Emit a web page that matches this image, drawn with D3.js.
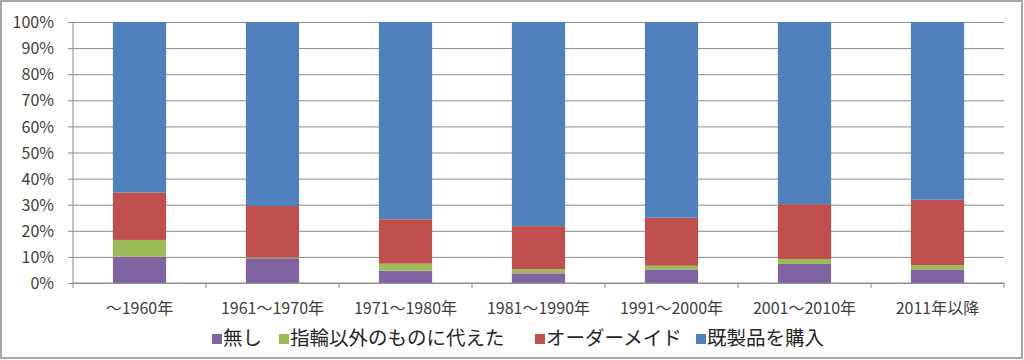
<!DOCTYPE html>
<html>
<head>
<meta charset="utf-8">
<script src="https://cdn.jsdelivr.net/npm/d3@7"></script>
<style>
  body { margin: 0; background: #fff; }
  text { font-family: "Noto Sans CJK JP", "Noto Sans", sans-serif; fill: #404040; }
</style>
</head>
<body>
<div id="chart"></div>
<script>
// categories and series (percent of each period)
const categories = ["～1960年", "1961～1970年", "1971～1980年", "1981～1990年", "1991～2000年", "2001～2010年", "2011年以降"];
const seriesNames = ["無し", "指輪以外のものに代えた", "オーダーメイド", "既製品を購入"];
const nashi   = [10.1, 9.5, 4.7, 3.7, 5.2, 7.3, 5.2];
const kawari  = [6.4, 0.3, 2.7, 1.5, 1.4, 1.9, 1.7];
const order   = [18.2, 19.7, 17.0, 16.6, 18.4, 21.0, 25.0];
const kisei   = [65.3, 70.5, 75.6, 78.2, 75.0, 69.8, 68.1];
const yTicks  = [0, 10, 20, 30, 40, 50, 60, 70, 80, 90, 100];
const colors  = ["#8064A2", "#9BBB59", "#C0504D", "#4F81BD"];

const W = 1024, H = 360;
const margin = {top: 22, right: 20, bottom: 77, left: 73};
const width = W - margin.left - margin.right,
      height = H - margin.top - margin.bottom;

const svgRoot = d3.select("#chart").append("svg")
  .attr("width", W).attr("height", H);

// outer frame
svgRoot.append("rect")
  .attr("x", 1).attr("y", 1).attr("width", W - 3).attr("height", H - 3)
  .attr("fill", "#fff").attr("stroke", "#a6a6a6").attr("stroke-width", 2);

const svg = svgRoot.append("g")
  .attr("transform", `translate(${margin.left},${margin.top})`);

const data = categories.map((c, i) => ({
  cat: c, s0: nashi[i], s1: kawari[i], s2: order[i], s3: kisei[i]
}));
const keys = ["s0", "s1", "s2", "s3"];
const stacked = d3.stack().keys(keys)(data);

const x = d3.scaleBand().domain(categories).range([0, width])
  .paddingInner(0.6).paddingOuter(0.3);
const y = d3.scaleLinear().domain([0, 100]).range([height, 0]);

// gridlines + y axis
const yAxis = svg.append("g")
  .call(d3.axisLeft(y).tickValues(yTicks).tickFormat(d => d + "%").tickSize(-width).tickSizeOuter(0));
yAxis.select(".domain").remove();
yAxis.selectAll(".tick line").attr("stroke", "#8c8c8c").attr("x1", -5);
yAxis.selectAll(".tick text").attr("x", -19).attr("dy", "0.35em")
  .style("font-size", "16px");

svg.append("line")
  .attr("x1", 0).attr("x2", 0).attr("y1", 0).attr("y2", height)
  .attr("stroke", "#8c8c8c");

// bars
svg.selectAll("g.layer")
  .data(stacked)
  .enter().append("g")
    .attr("class", "layer")
    .attr("fill", (d, i) => colors[i])
  .selectAll("rect")
  .data(d => d)
  .enter().append("rect")
    .attr("x", d => x(d.data.cat))
    .attr("y", d => y(d[1]))
    .attr("width", x.bandwidth())
    .attr("height", d => y(d[0]) - y(d[1]));

// x axis
const step = x.step();
const xAxis = svg.append("g").attr("transform", `translate(0,${height})`);
xAxis.append("line").attr("x1", 0).attr("x2", width).attr("stroke", "#8c8c8c");
xAxis.selectAll("line.tk")
  .data(d3.range(categories.length + 1))
  .enter().append("line")
    .attr("class", "tk")
    .attr("x1", i => i * step).attr("x2", i => i * step)
    .attr("y1", 0).attr("y2", 5)
    .attr("stroke", "#8c8c8c");
xAxis.selectAll("text")
  .data(categories)
  .enter().append("text")
    .attr("x", d => x(d) + x.bandwidth() / 2)
    .attr("y", 31)
    .attr("text-anchor", "middle")
    .style("font-size", "16px")
    .text(d => d);

// legend
const legendX = [212, 279, 535, 696];
const legend = svgRoot.append("g");
seriesNames.forEach((name, i) => {
  legend.append("rect")
    .attr("x", legendX[i]).attr("y", 334)
    .attr("width", 10).attr("height", 10)
    .attr("fill", colors[i]);
  legend.append("text")
    .attr("x", legendX[i] + 11).attr("y", 345)
    .style("font-size", "19.5px")
    .style("fill", "#262626")
    .text(name);
});
</script>
</body>
</html>
